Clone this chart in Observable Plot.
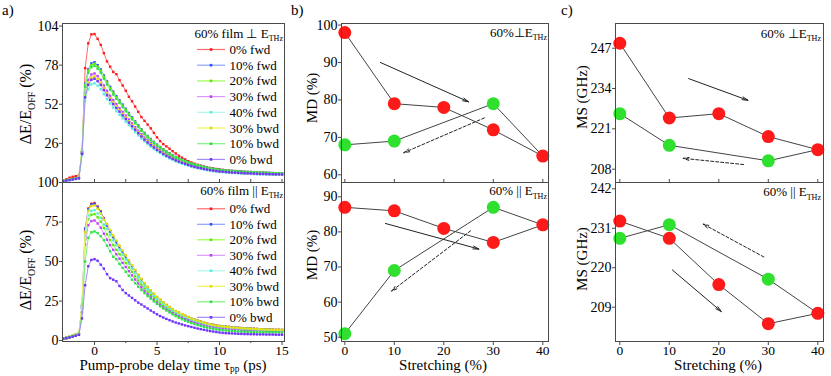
<!DOCTYPE html>
<html><head><meta charset="utf-8">
<script src="https://cdn.jsdelivr.net/npm/d3@7"></script>
<script src="https://cdn.jsdelivr.net/npm/@observablehq/plot@0.6"></script>
<style>
body{margin:0;background:#fff;}
#chart{position:relative;width:831px;height:376px;font-family:"Liberation Serif",serif;}
#chart svg{position:absolute;left:0;top:0;}
</style></head><body><div id="chart"></div>
<script>
// ---------- DATA ----------
const delay = [-2.5,-2.25,-2,-1.75,-1.5,-1.25,-1,-0.75,-0.5,-0.25,
 0,0.25,0.5,0.75,1,1.25,1.5,1.75,2,2.25,2.5,2.75,3,3.25,3.5,3.75,4,4.25,4.5,4.75,
 5,5.25,5.5,5.75,6,6.25,6.5,6.75,7,7.25,7.5,7.75,8,8.25,8.5,8.75,9,9.25,9.5,9.75,
 10,10.25,10.5,10.75,11,11.25,11.5,11.75,12,12.25,12.5,12.75,13,13.25,13.5,13.75,14,14.25,14.5,14.75,15];
const seriesNames = ["0% fwd","10% fwd","20% fwd","30% fwd","40% fwd","30% bwd","10% bwd","0% bwd"];
const markerColors = ["#ff1a1a","#3050ff","#5ee600","#c040ff","#55eedd","#dede00","#2ee04a","#7030ff"];
const lineColors   = ["#ff6a6a","#8ea4ff","#9cff50","#dc98ff","#aef7ee","#f2f25a","#7cf07c","#a48cff"];

// panel a, film perpendicular to E_THz
const perp0fwd = [1.5,2.2,3.2,3.8,4.2,4.6,20,76,92.5,98.5,
 98.7,95.5,91.5,86,80.5,77,73.5,72,68,64.5,61,57,54,50.5,47,43.5,41,38.5,36,33,30,27.5,25.5,24,22.5,20.8,19.3,17.8,16.5,15.3,14.2,13.3,12.5,11.8,11.2,10.6,10.1,9.7,9.3,9.0,8.7,8.4,8.2,8.0,7.8,7.6,7.4,7.3,7.1,7.0,6.9,6.8,6.7,6.6,6.5,6.4,6.3,6.2,6.1,6.0,6.0];
const perp10fwd = [1.2,1.5,1.8,2.2,2.6,3.0,20,65.6,75.2,79.2,
 80,78,75.2,71.2,67.2,63.6,60.4,57.4,54.6,51.8,49.0,46.2,43.4,40.6,38.0,35.4,33.0,30.9,28.9,27.0,25.2,23.6,22.1,20.6,19.4,18.2,17.0,16.1,15.2,14.3,13.5,12.7,12.1,11.5,11.0,10.4,9.9,9.5,9.1,8.8,8.5,8.3,8.1,7.9,7.7,7.6,7.4,7.3,7.1,7.0,7.0,6.9,6.7,6.6,6.6,6.5,6.4,6.3,6.2,6.2,6.2];
const perp20fwd = [1.3,1.6,1.9,2.3,2.7,3.1,21,64.8,74.3,78.2,
 79,77.0,74.3,70.3,66.4,62.8,59.6,56.7,53.9,51.1,48.3,45.6,42.8,40.1,37.5,35.0,32.6,30.5,28.5,26.6,24.9,23.3,21.8,20.4,19.1,17.9,16.8,15.9,15.0,14.1,13.4,12.6,11.9,11.4,10.8,10.3,9.8,9.4,9.0,8.7,8.4,8.2,8.0,7.8,7.6,7.5,7.3,7.2,7.0,7.0,6.9,6.8,6.6,6.6,6.5,6.4,6.3,6.2,6.2,6.2,6.1];
const perp30fwd = [1.1,1.4,1.7,2.1,2.5,2.9,19,59.5,68.2,71.8,
 72.5,70.7,68.2,64.5,60.9,57.6,54.7,52.1,49.4,46.9,44.4,41.8,39.3,36.8,34.4,32.1,29.9,28.0,26.2,24.4,22.8,21.4,20.0,18.7,17.5,16.5,15.4,14.6,13.8,13.0,12.3,11.5,10.9,10.4,9.9,9.4,9.0,8.6,8.3,8.0,7.7,7.5,7.3,7.2,7.0,6.9,6.7,6.6,6.5,6.4,6.3,6.2,6.1,6.0,5.9,5.9,5.8,5.7,5.7,5.7,5.6];
const perp40fwd = [1.0,1.3,1.6,2.0,2.4,2.8,18,54.1,62.0,65.3,
 66,64.4,62.0,58.7,55.4,52.5,49.8,47.4,45.0,42.7,40.4,38.1,35.8,33.5,31.4,29.2,27.3,25.5,23.8,22.2,20.8,19.5,18.2,17.0,16.0,15.0,14.1,13.3,12.5,11.8,11.2,10.5,10.0,9.5,9.0,8.6,8.2,7.9,7.5,7.3,7.0,6.9,6.7,6.5,6.3,6.3,6.1,6.0,5.9,5.8,5.7,5.7,5.5,5.5,5.4,5.3,5.3,5.2,5.1,5.1,5.1];
const perp30bwd = [1.3,1.6,1.9,2.3,2.7,3.1,22,57.8,66.3,69.8,
 70.5,68.7,66.3,62.7,59.2,56.0,53.2,50.6,48.1,45.6,43.1,40.7,38.2,35.8,33.5,31.2,29.1,27.2,25.5,23.8,22.2,20.8,19.5,18.2,17.1,16.0,15.0,14.2,13.4,12.6,11.9,11.2,10.6,10.2,9.7,9.2,8.7,8.4,8.0,7.8,7.5,7.3,7.1,7.0,6.8,6.7,6.6,6.4,6.3,6.2,6.1,6.1,5.9,5.9,5.8,5.7,5.6,5.6,5.5,5.5,5.4];
const perp10bwd = [1.2,1.5,1.8,2.2,2.6,3.0,20,63.6,72.9,76.7,
 77.5,75.6,72.9,69.0,65.1,61.6,58.5,55.6,52.9,50.1,47.4,44.7,42.0,39.4,36.8,34.3,32.0,29.9,28.0,26.1,24.4,22.9,21.4,20.0,18.8,17.6,16.5,15.6,14.7,13.9,13.1,12.3,11.7,11.2,10.6,10.1,9.6,9.2,8.8,8.5,8.2,8.1,7.8,7.7,7.4,7.4,7.2,7.1,6.9,6.8,6.7,6.7,6.5,6.4,6.4,6.3,6.2,6.1,6.0,6.0,6.0];
const perp0bwd = [1.0,1.3,1.6,2.0,2.4,2.8,19,56.6,64.9,68.3,
 69,67.3,64.9,61.4,58.0,54.9,52.1,49.5,47.1,44.6,42.2,39.8,37.4,35.1,32.8,30.6,28.5,26.6,24.9,23.3,21.7,20.4,19.0,17.8,16.7,15.7,14.7,13.9,13.1,12.4,11.7,11.0,10.4,9.9,9.5,9.0,8.6,8.2,7.9,7.6,7.3,7.2,7.0,6.8,6.6,6.6,6.4,6.3,6.1,6.1,6.0,5.9,5.8,5.7,5.7,5.6,5.5,5.5,5.4,5.4,5.3];

// panel a, film parallel to E_THz
const para0fwd = [1.0,1.5,2.1,2.8,3.5,4.2,22,69.6,83.5,86.6,
 87,84.8,81.8,77.4,73.1,69.2,65.7,62.5,59.3,56.3,53.2,50.2,47.2,44.2,41.3,38.5,35.9,33.6,31.4,29.3,27.4,25.7,24.0,22.4,21.1,19.7,18.5,17.5,16.5,15.6,14.7,13.8,13.1,12.5,11.9,11.3,10.8,10.4,9.9,9.6,9.2,9.0,8.8,8.6,8.4,8.3,8.1,7.9,7.7,7.7,7.6,7.5,7.3,7.2,7.1,7.0,7.0,6.9,6.8,6.8,6.7];
const para10fwd = [1.1,1.6,2.2,2.9,3.6,4.3,21,70.9,83.0,86.1,
 86.5,84.3,81.3,77.0,72.7,68.8,65.3,62.1,59.0,56.0,52.9,49.9,46.9,43.9,41.1,38.3,35.7,33.4,31.2,29.2,27.2,25.5,23.9,22.3,20.9,19.6,18.4,17.4,16.4,15.5,14.6,13.8,13.1,12.5,11.9,11.2,10.7,10.3,9.9,9.5,9.2,9.0,8.7,8.6,8.3,8.2,8.0,7.9,7.7,7.6,7.5,7.4,7.3,7.2,7.1,7.0,6.9,6.8,6.7,6.7,6.7];
const para20fwd = [1.1,1.6,2.2,2.8,3.4,4.1,21,64,76.8,79.6,
 80,78,75.2,71.2,67.2,63.6,60.4,57.4,54.6,51.8,49.0,46.2,43.4,40.6,38.0,35.4,33.0,30.9,28.9,27.0,25.2,23.6,22.1,20.6,19.4,18.2,17.0,16.1,15.2,14.3,13.5,12.7,12.1,11.5,11.0,10.4,9.9,9.5,9.1,8.8,8.5,8.3,8.1,7.9,7.7,7.6,7.4,7.3,7.1,7.0,7.0,6.9,6.7,6.6,6.6,6.5,6.4,6.3,6.2,6.2,6.2];
const para30fwd = [1.2,1.7,2.3,2.9,3.5,4.2,20,60.8,73,75.6,
 76,74.1,71.4,67.6,63.8,60.4,57.4,54.6,51.8,49.2,46.5,43.9,41.2,38.6,36.1,33.7,31.4,29.3,27.4,25.6,23.9,22.4,21.0,19.6,18.4,17.3,16.2,15.3,14.4,13.6,12.8,12.1,11.5,10.9,10.4,9.9,9.4,9.0,8.7,8.4,8.1,7.9,7.7,7.5,7.3,7.2,7.1,6.9,6.8,6.7,6.6,6.5,6.4,6.3,6.2,6.2,6.1,6.0,5.9,5.9,5.9];
const para40fwd = [1.2,1.7,2.3,2.9,3.5,4.2,22,66,79.2,82.1,
 82.5,80.4,77.6,73.4,70.6,66.8,63.4,60.3,57.3,54.3,51.4,48.5,45.5,42.7,39.9,37.2,34.7,32.4,30.3,28.3,26.5,24.8,23.2,21.7,20.3,19.1,17.9,16.9,16.0,15.0,14.2,13.4,12.7,12.1,11.5,10.9,10.4,10.0,9.6,9.2,8.9,8.7,8.5,8.3,8.1,8.0,7.8,7.6,7.5,7.4,7.3,7.2,7.1,7.0,6.9,6.8,6.7,6.6,6.6,6.6,6.5];
const para30bwd = [1.3,1.9,2.5,3.1,3.7,4.5,23,68.4,82.1,85.1,
 85.5,83.4,80.4,76.5,73.9,70.0,66.4,63.2,60.0,56.9,53.9,50.8,47.7,44.7,41.8,39.0,36.3,34.0,31.8,29.7,27.7,26.0,24.3,22.7,21.3,20.0,18.7,17.7,16.7,15.8,14.9,14.0,13.3,12.6,12.0,11.4,10.8,10.3,9.9,9.5,9.2,9.0,8.7,8.6,8.3,8.2,8.0,7.9,7.7,7.6,7.5,7.4,7.3,7.2,7.1,7.0,6.9,6.9,6.8,6.8,6.7];
const para10bwd = [1.3,1.7,2.2,2.7,3.2,3.8,18,50,65,68.5,
 69,68,66,63.5,60,56.5,53,51.5,48.5,46,43.5,41,38.5,36.3,34,32,30,28.2,26.5,24.8,23.2,21.7,20.3,19,17.8,16.6,15.5,14.5,13.5,12.6,11.8,11.1,10.4,9.8,9.2,8.7,8.2,7.8,7.4,7.1,6.8,6.6,6.4,6.2,6.0,5.9,5.8,5.7,5.6,5.5,5.5,5.4,5.4,5.3,5.3,5.3,5.2,5.2,5.2,5.2,5.1];
const para0bwd = [1.2,1.6,2.0,2.5,3.0,3.6,14,35,47,51,
 51.5,50.5,48,45.5,42,39.5,38.5,37.5,34.5,32,30,28.5,27,25.5,24,22.8,21.5,20.3,19,17.8,16.6,15.5,14.6,13.7,12.9,12.1,11.4,10.8,10.2,9.6,9.1,8.6,8.1,7.6,7.2,6.8,6.4,6.0,5.7,5.4,5.1,4.9,4.7,4.6,4.5,4.4,4.3,4.2,4.1,4.1,4.0,4.0,3.9,3.9,3.9,3.8,3.8,3.8,3.7,3.7,3.7];

const perpSeries = [perp0fwd,perp10fwd,perp20fwd,perp30fwd,perp40fwd,perp30bwd,perp10bwd,perp0bwd];
const paraSeries = [para0fwd,para10fwd,para20fwd,para30fwd,para40fwd,para30bwd,para10bwd,para0bwd];

// panels b, c
const stretchFwd = [0,10,20,30,40];
const stretchBwd = [40,30,10,0];
const mdPerpFwd = [98,79,78,72,65];
const mdPerpBwd = [65,79,69,68];
const mdParaFwd = [87,86,81,77,82];
const mdParaBwd = [82,87,69,51];
const msPerpFwd = [248.6,224.5,225.9,218.5,214.3];
const msPerpBwd = [214.3,210.7,215.7,225.9];
const msParaFwd = [233,228.2,215.3,204.4,207.3];
const msParaBwd = [207.3,216.8,232,228.2];
// arrows: [x1, y1, x2, y2]
const mdPerpArrowSolid  = [7.2, 90, 25, 79.5];
const mdPerpArrowDashed = [28.2, 75.2, 11.9, 65.9];
const mdParaArrowSolid  = [8.2, 82.4, 27.1, 75.1];
const mdParaArrowDashed = [25.4, 80.3, 9.4, 63.1];
const msPerpArrowSolid  = [13.9, 237.2, 25.9, 230.2];
const msPerpArrowDashed = [25.0, 209.5, 12.8, 211.5];
const msParaArrowSolid  = [10.6, 219.4, 20.5, 207.8];
const msParaArrowDashed = [29.1, 223.0, 16.8, 232.2];

// tick values
const aTopTicks = [26,52,78,104];
const aBotTicks = [0,25,50,75,100];
const aXTicks = [0,5,10,15];
const aXMinor = [2.5,7.5,12.5];
const bTopTicks = [60,70,80,90,100];
const bBotTicks = [50,60,70,80,90];
const cTopTicks = [208,221,234,247];
const cBotTicks = [209,220,231,242];
const sXTicks = [0,10,20,30,40];

// ---------- LAYOUT ----------
const W = 831, H = 376;
const chart = document.getElementById("chart");
const FONT = '"Liberation Serif", "Times New Roman", serif';
const AX = "#4a4a4a";

function panel({left, right, top, bottom, xDomain, yDomain, marks}) {
  const svg = Plot.plot({
    width: W, height: H,
    marginLeft: left, marginRight: W - right, marginTop: top, marginBottom: H - bottom,
    x: {domain: xDomain, axis: null},
    y: {domain: yDomain, axis: null},
    style: {fontFamily: FONT, fontSize: "14px", background: "transparent", color: "#000", overflow: "visible"},
    marks
  });
  chart.appendChild(svg);
}

function yAxis(ticks) {
  return Plot.axisY({ticks, tickSize: 3, tickPadding: 1, label: null, stroke: AX});
}
function xAxisBottom(ticks, minor) {
  const m = [Plot.axisX({ticks, tickSize: 4, tickPadding: 0, fontSize: 13.5, label: null, stroke: AX})];
  if (minor) m.push(Plot.axisX({ticks: minor, tickSize: 2, tickFormat: () => "", label: null, stroke: AX}));
  return m;
}
function xAxisTopTicks(ticks) {
  return Plot.axisX({ticks, anchor: "top", tickSize: 4, tickFormat: () => "", label: null, stroke: AX});
}

function decayMarks(series) {
  const marks = [];
  series.forEach((arr, i) => {
    const data = delay.map((t, j) => ({t, v: arr[j]}));
    marks.push(Plot.line(data, {x: "t", y: "v", stroke: lineColors[i], strokeWidth: 1}));
    marks.push(Plot.dot(data, {x: "t", y: "v", symbol: "square", r: 1.35, fill: markerColors[i], stroke: "none"}));
  });
  return marks;
}

function loopMarks(fwd, bwd, arrowS, arrowD) {
  const f = stretchFwd.map((s, i) => ({s, v: fwd[i]}));
  const b = stretchBwd.map((s, i) => ({s, v: bwd[i]}));
  const arrows = [
    {x1: arrowS[0], y1: arrowS[1], x2: arrowS[2], y2: arrowS[3]},
    {x1: arrowD[0], y1: arrowD[1], x2: arrowD[2], y2: arrowD[3]}
  ];
  return [
    Plot.line(f, {x: "s", y: "v", stroke: "#444", strokeWidth: 1}),
    Plot.line(b, {x: "s", y: "v", stroke: "#444", strokeWidth: 1}),
    Plot.arrow(arrows.slice(0,1), {x1: "x1", y1: "y1", x2: "x2", y2: "y2", stroke: "#222", strokeWidth: 1, headLength: 9, headAngle: 28}),
    Plot.arrow(arrows.slice(1), {x1: "x1", y1: "y1", x2: "x2", y2: "y2", stroke: "#222", strokeWidth: 1, headLength: 9, headAngle: 28, strokeDasharray: "3,2"}),
    Plot.dot(b.slice(1), {x: "s", y: "v", r: 6.5, fill: "#2fe02f", stroke: "none"}),
    Plot.dot(f, {x: "s", y: "v", r: 6.5, fill: "#ff1a1a", stroke: "none"})
  ];
}

const aX = [-2.56, 15.2];
const sXb = [-0.67, 41.15];
const sXc = [-0.87, 41.15];

// panel a top
panel({left: 62, right: 284, top: 23, bottom: 182, xDomain: aX, yDomain: [0, 105.7],
  marks: [...decayMarks(perpSeries), yAxis(aTopTicks), Plot.axisY({ticks:[0], tickSize:3, tickFormat: () => "", label:null, stroke: AX}), Plot.frame({stroke: AX})]});
// panel a bottom
panel({left: 62, right: 284, top: 182, bottom: 341, xDomain: aX, yDomain: [-0.6, 100],
  marks: [...decayMarks(paraSeries), yAxis(aBotTicks), ...xAxisBottom(aXTicks, aXMinor), xAxisTopTicks([...aXTicks, ...aXMinor]), Plot.frame({stroke: AX})]});
// panel b top
panel({left: 341, right: 548, top: 23, bottom: 182, xDomain: sXb, yDomain: [57.94, 100.42],
  marks: [...loopMarks(mdPerpFwd, mdPerpBwd, mdPerpArrowSolid, mdPerpArrowDashed), yAxis(bTopTicks), Plot.frame({stroke: AX})]});
// panel b bottom
panel({left: 341, right: 548, top: 182, bottom: 341, xDomain: sXb, yDomain: [48.78, 94.07],
  marks: [...loopMarks(mdParaFwd, mdParaBwd, mdParaArrowSolid, mdParaArrowDashed), yAxis(bBotTicks), ...xAxisBottom(sXTicks), xAxisTopTicks(sXTicks), Plot.frame({stroke: AX})]});
// panel c top
panel({left: 615, right: 823, top: 23, bottom: 182, xDomain: sXc, yDomain: [203.71, 254.96],
  marks: [...loopMarks(msPerpFwd, msPerpBwd, msPerpArrowSolid, msPerpArrowDashed), yAxis(cTopTicks), Plot.frame({stroke: AX})]});
// panel c bottom
panel({left: 615, right: 823, top: 182, bottom: 341, xDomain: sXc, yDomain: [199.44, 243.76],
  marks: [...loopMarks(msParaFwd, msParaBwd, msParaArrowSolid, msParaArrowDashed), yAxis(cBotTicks), ...xAxisBottom(sXTicks), xAxisTopTicks(sXTicks), Plot.frame({stroke: AX})]});

// ---------- ANNOTATIONS ----------
const ov = d3.create("svg").attr("width", W).attr("height", H)
  .style("font-family", FONT).style("overflow", "visible");

function rich(x, y, parts, {size = 13, anchor = "start", rotate = 0, subShift = 0.28} = {}) {
  const t = ov.append("text")
    .attr("transform", `translate(${x},${y}) rotate(${rotate})`)
    .attr("text-anchor", anchor).attr("font-size", size).attr("fill", "#000");
  let shifted = false;
  parts.forEach(p => {
    const sub = Array.isArray(p);
    const s = t.append("tspan").text(sub ? p[0] : p);
    if (sub) { s.attr("font-size", size * 0.62); if (!shifted) { s.attr("dy", size * subShift); shifted = true; } }
    else if (shifted) { s.attr("dy", -size * subShift); shifted = false; }
  });
  return t;
}

// panel letters
rich(2, 15, ["a)"], {size: 15});
rich(291, 15, ["b)"], {size: 15});
rich(561, 15, ["c)"], {size: 15});

// in-panel headers
rich(283, 37.5, ["60% film \u22A5 E", ["THz"]], {anchor: "end"});
rich(283, 194.5, ["60% film || E", ["THz"]], {anchor: "end"});
rich(547, 36.5, ["60%\u22A5E", ["THz"]], {anchor: "end"});
rich(547, 195, ["60% || E", ["THz"]], {anchor: "end"});
rich(821, 37.5, ["60% \u22A5E", ["THz"]], {anchor: "end"});
rich(821, 196, ["60% || E", ["THz"]], {anchor: "end"});

// legends in panel a
function legend(y0, step) {
  seriesNames.forEach((n, i) => {
    const y = y0 + i * step;
    ov.append("line").attr("x1", 197).attr("x2", 225).attr("y1", y).attr("y2", y)
      .attr("stroke", lineColors[i]).attr("stroke-width", 1.2);
    ov.append("rect").attr("x", 209.7).attr("y", y - 1.3).attr("width", 2.6).attr("height", 2.6).attr("fill", markerColors[i]);
    rich(229.5, y + 4.5, [n], {size: 13});
  });
}
legend(49.5, 15.7);
legend(208.8, 15.5);

// axis titles
rich(31, 104, ["\u0394E/E", ["OFF"], " (%)"], {size: 16, anchor: "middle", rotate: -90});
rich(31, 270, ["\u0394E/E", ["OFF"], " (%)"], {size: 16, anchor: "middle", rotate: -90});
rich(317, 98, ["MD (%)"], {size: 15, anchor: "middle", rotate: -90});
rich(317, 255, ["MD (%)"], {size: 15, anchor: "middle", rotate: -90});
rich(587, 97, ["MS (GHz)"], {size: 15, anchor: "middle", rotate: -90});
rich(587, 259, ["MS (GHz)"], {size: 15, anchor: "middle", rotate: -90});
rich(173, 369.5, ["Pump-probe delay time \u03C4", ["pp"], " (ps)"], {size: 15, anchor: "middle", subShift: 0.18});
rich(443, 369.5, ["Stretching (%)"], {size: 15, anchor: "middle"});
rich(718, 369.5, ["Stretching (%)"], {size: 15, anchor: "middle"});

chart.appendChild(ov.node());
</script></body></html>
